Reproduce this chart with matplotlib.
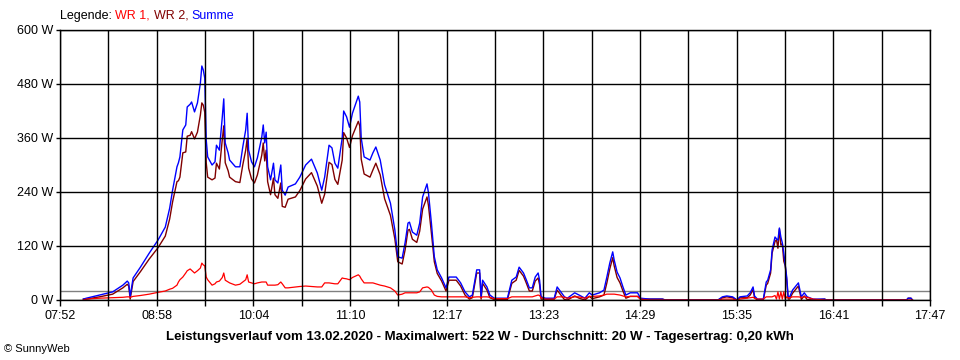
import numpy as np
import matplotlib
matplotlib.use("Agg")
import matplotlib.pyplot as plt

plt.rcParams['font.family'] = ['Liberation Sans', 'DejaVu Sans']

# --- Data (time, Summe, WR 1, WR 2 in W) ---
times = [
    "08:08", "08:10", "08:19", "08:28", "08:35", "08:38", "08:39", "08:40", "08:42", "08:47",
    "08:53", "08:59", "09:04", "09:07", "09:09", "09:12", "09:13", "09:14", "09:16", "09:18",
    "09:19", "09:21", "09:22", "09:24", "09:26", "09:28", "09:29", "09:30", "09:31", "09:32",
    "09:33", "09:36", "09:38", "09:39", "09:41", "09:43", "09:44", "09:45", "09:47", "09:48",
    "09:52", "09:55", "09:57", "09:59", "10:00", "10:01", "10:03", "10:05", "10:07", "10:10",
    "10:11", "10:12", "10:13", "10:14", "10:16", "10:18", "10:19", "10:21", "10:23", "10:24",
    "10:26", "10:28", "10:33", "10:36", "10:40", "10:44", "10:48", "10:51", "10:53", "10:56",
    "10:58", "11:00", "11:02", "11:05", "11:06", "11:08", "11:10", "11:12", "11:16", "11:17",
    "11:18", "11:20", "11:24", "11:26", "11:28", "11:31", "11:34", "11:38", "11:41", "11:43",
    "11:46", "11:48", "11:50", "11:51", "11:53", "11:56", "11:58", "12:00", "12:03", "12:04",
    "12:06", "12:08", "12:10", "12:13", "12:16", "12:18", "12:23", "12:26", "12:29", "12:32",
    "12:34", "12:37", "12:39", "12:40", "12:41", "12:44", "12:46", "12:49", "12:58", "13:01",
    "13:04", "13:06", "13:09", "13:11", "13:13", "13:15", "13:17", "13:19", "13:20", "13:21",
    "13:24", "13:30", "13:32", "13:35", "13:37", "13:39", "13:44", "13:47", "13:51", "13:54",
    "13:56", "14:01", "14:04", "14:06", "14:08", "14:10", "14:11", "14:13", "14:15", "14:17",
    "14:19", "14:22", "14:27", "14:29", "14:35", "14:44", "14:46", "15:22", "15:25", "15:28",
    "15:32", "15:35", "15:37", "15:42", "15:44", "15:46", "15:47", "15:49", "15:53", "15:55",
    "15:56", "15:58", "15:59", "16:01", "16:02", "16:03", "16:04", "16:05", "16:06", "16:07",
    "16:08", "16:09", "16:10", "16:11", "16:13", "16:17", "16:19", "16:21", "16:23", "16:27",
    "16:35", "16:36", "17:31", "17:32", "17:34", "17:35",
]

summe = [
    2, 4, 11, 18, 33, 42, 38, 8, 49, 73,
    104, 133, 162, 204, 244, 296, 305, 318, 378, 389,
    429, 435, 440, 418, 438, 482, 520, 511, 493, 356,
    318, 300, 307, 344, 333, 407, 447, 349, 327, 311,
    296, 296, 340, 378, 415, 333, 307, 296, 316, 362,
    389, 349, 373, 296, 267, 304, 267, 260, 300, 244,
    233, 251, 258, 273, 300, 313, 282, 244, 273, 344,
    338, 304, 293, 360, 420, 407, 384, 415, 453, 440,
    360, 318, 311, 327, 340, 311, 256, 215, 156, 96,
    93, 127, 171, 173, 151, 144, 171, 229, 258, 238,
    171, 96, 67, 49, 27, 51, 51, 38, 18, 7,
    11, 67, 67, 7, 44, 29, 11, 4, 4, 44,
    51, 73, 60, 44, 27, 27, 51, 60, 44, 7,
    4, 4, 29, 16, 7, 4, 16, 11, 4, 16,
    11, 16, 22, 51, 82, 107, 89, 62, 49, 29,
    11, 16, 16, 4, 2, 2, 0, 0, 7, 9,
    7, 0, 7, 9, 16, 29, 9, 2, 2, 40,
    44, 67, 111, 140, 136, 133, 160, 140, 127, 104,
    78, 51, 7, 7, 22, 38, 7, 16, 7, 2,
    2, 0, 0, 4, 4, 0,
]

wr1 = [
    0, 2, 4, 5, 6, 7, 7, 6, 8, 10,
    13, 17, 20, 24, 26, 33, 40, 45, 51, 60,
    65, 69, 66, 60, 65, 71, 82, 78, 76, 51,
    45, 33, 36, 40, 42, 50, 60, 44, 40, 38,
    33, 35, 40, 45, 56, 40, 38, 36, 38, 40,
    40, 40, 40, 33, 33, 33, 33, 34, 40, 36,
    27, 27, 29, 30, 31, 30, 29, 29, 38, 38,
    37, 36, 36, 49, 48, 47, 45, 50, 56, 53,
    47, 38, 38, 38, 36, 33, 31, 27, 20, 11,
    13, 16, 16, 16, 16, 16, 18, 27, 29, 28,
    22, 11, 8, 7, 7, 7, 7, 7, 7, 5,
    6, 7, 7, 5, 7, 7, 6, 3, 3, 7,
    7, 7, 7, 7, 7, 7, 9, 11, 10, 5,
    2, 2, 7, 7, 6, 4, 7, 7, 4, 8,
    8, 9, 11, 13, 13, 13, 13, 12, 11, 9,
    7, 8, 8, 2, 0, 0, 0, 0, 2, 2,
    2, 0, 2, 4, 5, 6, 4, 2, 2, 7,
    7, 7, 7, 10, 2, 18, 2, 18, 2, 18,
    2, 7, 5, 5, 7, 7, 6, 7, 6, 2,
    0, 0, 0, 0, 0, 0,
]

wr2 = [
    2, 2, 7, 13, 27, 35, 31, 2, 41, 63,
    91, 116, 142, 180, 218, 263, 265, 273, 327, 329,
    364, 366, 374, 358, 373, 411, 438, 433, 417, 305,
    273, 267, 271, 304, 291, 357, 387, 305, 287, 273,
    263, 261, 300, 333, 359, 293, 269, 260, 278, 322,
    349, 309, 333, 263, 234, 271, 234, 226, 260, 208,
    206, 224, 229, 243, 269, 283, 253, 215, 235, 306,
    301, 268, 257, 311, 372, 360, 339, 365, 397, 387,
    313, 280, 273, 289, 304, 278, 225, 188, 136, 85,
    80, 111, 155, 157, 135, 128, 153, 202, 229, 210,
    149, 85, 59, 42, 20, 44, 44, 31, 11, 2,
    5, 60, 60, 2, 37, 22, 5, 1, 1, 37,
    44, 66, 53, 37, 20, 20, 42, 49, 34, 2,
    2, 2, 22, 9, 1, 0, 9, 4, 0, 8,
    3, 7, 11, 38, 69, 94, 76, 50, 38, 20,
    4, 8, 8, 2, 2, 2, 0, 0, 5, 7,
    5, 0, 5, 5, 11, 23, 5, 0, 0, 33,
    37, 60, 104, 130, 134, 115, 158, 122, 125, 86,
    76, 44, 2, 2, 15, 31, 1, 9, 1, 0,
    2, 0, 0, 4, 4, 0,
]

x_labels = ["07:52", "08:58", "10:04", "11:10", "12:17", "13:23",
            "14:29", "15:35", "16:41", "17:47"]
y_values = [0, 120, 240, 360, 480, 600]
average = 20

title = ("Leistungsverlauf vom 13.02.2020 - Maximalwert: 522 W - "
         "Durchschnitt: 20 W - Tagesertrag: 0,20 kWh")


def to_min(s):
    h, m = s.split(":")
    return int(h) * 60 + int(m)


t = np.array([to_min(s) for s in times])
t_start = to_min(x_labels[0])
t_end = to_min(x_labels[-1])

fig = plt.figure(figsize=(9.6, 3.6), dpi=100)
ax = fig.add_axes([60 / 960, 1 - 300 / 360, 870 / 960, 270 / 360])

# average line
ax.axhline(average, color='#808080', lw=1.0, zorder=1.5)

ax.plot(t, wr2, color='#800000', lw=1.0, zorder=2)
ax.plot(t, summe, color='#0000ff', lw=1.0, zorder=2.1)
ax.plot(t, wr1, color='#ff0000', lw=0.9, zorder=2.2)

ax.set_xlim(t_start, t_end)
ax.set_ylim(0, 600)

major = np.linspace(t_start, t_end, len(x_labels))
minor = (major[:-1] + major[1:]) / 2
ax.set_xticks(major)
ax.set_xticklabels(x_labels)
ax.set_xticks(minor, minor=True)
ax.set_yticks(y_values)
ax.set_yticklabels([f"{v} W" for v in y_values])

ax.grid(True, which='both', axis='x', color='black', lw=1.0)
ax.grid(True, axis='y', color='black', lw=1.0)
ax.set_axisbelow(False)
for sp in ax.spines.values():
    sp.set_color('black')
    sp.set_linewidth(1.0)

ax.tick_params(axis='x', which='both', length=4, width=1.0, direction='out',
               labelsize=9, pad=3)
ax.tick_params(axis='y', length=3, width=1.0, direction='out',
               labelsize=9, pad=2)

# legend as coloured text pieces
leg = fig.text(60 / 960, 1 - 16 / 360, "Legende: ", fontsize=9,
               color='black', va='center', ha='left')
prev = leg
for txt, col in [("WR 1, ", '#ff0000'), ("WR 2, ", '#800000'), ("Summe", '#0000ff')]:
    prev = ax.annotate(txt, xy=(1, 0), xycoords=prev, va='bottom', ha='left',
                       fontsize=9, color=col, annotation_clip=False)

fig.text(480 / 960, 1 - 337 / 360, title, fontsize=9.5, fontweight='bold',
         ha='center', va='center')
fig.text(4 / 960, 1 - 349 / 360, "© SunnyWeb", fontsize=8, ha='left', va='center')

fig.savefig("out.png", dpi=100, facecolor='white')
